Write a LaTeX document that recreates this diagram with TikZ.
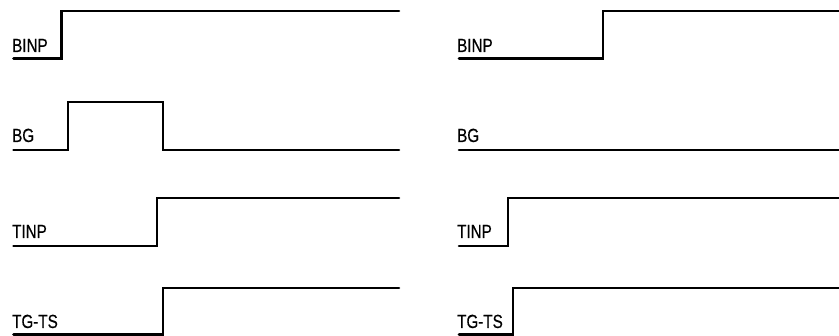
\documentclass[tikz,border=0pt]{standalone}
\usepackage{fontspec}
\newfontfamily\lblfont[FakeBold=0.6]{Liberation Sans}
\newcommand{\cond}[1]{\scalebox{0.8}[1]{\lblfont\fontsize{19}{21}\selectfont #1}}
\begin{document}
\begin{tikzpicture}[x=1pt,y=-1pt,
  wave/.style={line width=2.6pt,line cap=round,line join=miter},
  lbl/.style={anchor=base west,inner sep=0pt}]
\useasboundingbox (0,0) rectangle (839,336);
% left panel
\node[lbl] (l1) at (12,52) {\cond{BINP}};
\node[lbl] (l2) at (12,142) {\cond{BG}};
\node[lbl] (l3) at (12,238) {\cond{TINP}};
\node[lbl] (l4) at (12,328) {\cond{TG-TS}};
\draw[wave] (13.5,58.5) -- (61.5,58.5) -- (61.5,11) -- (399,11);
\draw[wave] (13.5,150) -- (68,150) -- (68,102) -- (163,102) -- (163,150) -- (399,150);
\draw[wave] (13.5,246) -- (157,246) -- (157,198) -- (399,198);
\draw[wave] (13.5,334.5) -- (163,334.5) -- (163,288) -- (399,288);
% right panel
\node[lbl] (r1) at (457,52) {\cond{BINP}};
\node[lbl] (r2) at (457,142) {\cond{BG}};
\node[lbl] (r3) at (457,238) {\cond{TINP}};
\node[lbl] (r4) at (457,328) {\cond{TG-TS}};
\draw[wave] (459,58.5) -- (603,58.5) -- (603,11) -- (845,11);
\draw[wave] (459,150) -- (845,150);
\draw[wave] (459,246) -- (508,246) -- (508,198) -- (845,198);
\draw[wave] (459,334.5) -- (513,334.5) -- (513,288) -- (845,288);
\end{tikzpicture}
\end{document}
